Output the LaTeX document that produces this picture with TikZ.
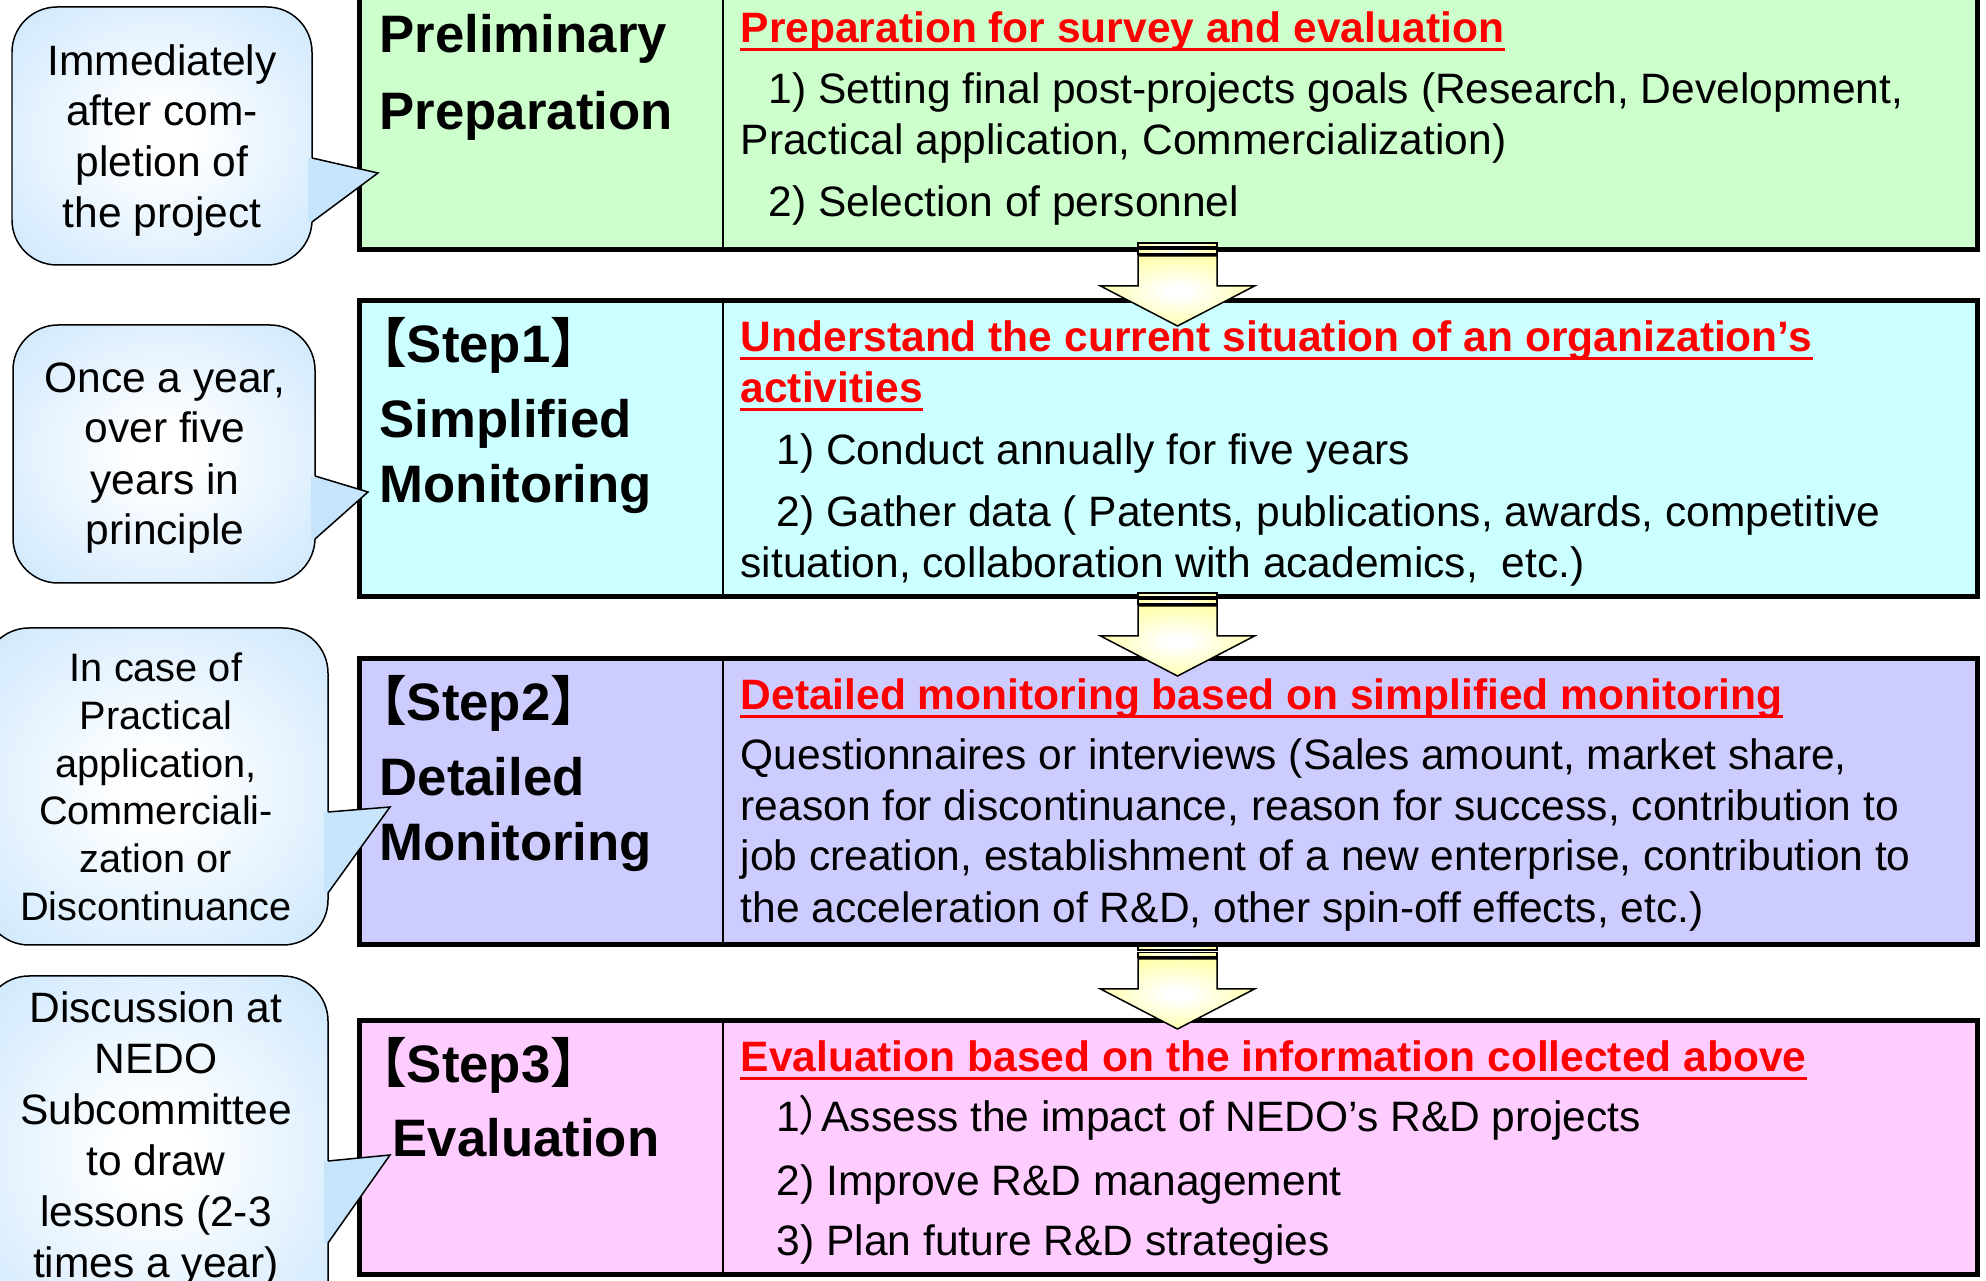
\documentclass[tikz,border=0pt]{standalone}
\usepackage{fontspec}
\setmainfont{Liberation Sans}
\newfontfamily\cjk{Noto Sans CJK JP}
\newfontfamily\cjkp[RawFeature=+palt]{Noto Sans CJK JP}
\definecolor{cgreen}{RGB}{204,255,204}
\definecolor{ccyan}{RGB}{204,255,255}
\definecolor{clav}{RGB}{204,204,255}
\definecolor{cpink}{RGB}{255,204,255}
\definecolor{cred}{RGB}{255,0,0}
\definecolor{cblue}{RGB}{198,228,252}
\definecolor{ayel}{RGB}{255,255,110}
\pgfdeclareradialshading{cshade}{\pgfpoint{0bp}{0bp}}{color(0bp)=(white); color(5bp)=(white); color(40bp)=(cblue); color(80bp)=(cblue)}
\pgfdeclareradialshading{ashade}{\pgfpoint{0bp}{0bp}}{color(0bp)=(white); color(4bp)=(white); color(42bp)=(ayel); color(80bp)=(ayel)}
\newcommand\bodyf{\fontsize{12.1pt}{14.5pt}\selectfont}
\newcommand\titlef{\fontsize{15pt}{18pt}\selectfont\bfseries}
\newcommand\callf{\fontsize{12.1pt}{14.5pt}\selectfont}
\newcommand\callsmf{\fontsize{11.3pt}{13.6pt}\selectfont}
\tikzset{
  boxline/.style={draw=black, line width=0.5mm},
  divline/.style={draw=black, line width=0.25mm},
  txt/.style={inner sep=0pt, anchor=base west, font=\bodyf},
  hd/.style={inner sep=0pt, anchor=base west, font=\bodyf\bfseries, text=cred},
  ttl/.style={inner sep=0pt, anchor=base west, font=\titlef},
  ctx/.style={inner sep=0pt, anchor=base, font=\callf},
  ctxs/.style={inner sep=0pt, anchor=base, font=\callsmf},
  uline/.style={draw=cred, line width=0.25mm},
  callbody/.style={draw=black, line width=0.15mm, shade, shading=cshade, rounded corners=4.5mm},
  callptr/.style={draw=black, line width=0.15mm, line join=miter},
  arrowst/.style={draw=black, line width=0.15mm, shade, shading=ashade},
  blockarrow/.pic={
    \path[arrowst] (-39.5,0) rectangle (39.5,4);
    \path[arrowst] (-39.5,6.5) rectangle (39.5,11);
    \path[arrowst] (-39.5,13) -- (39.5,13) -- (39.5,43) -- (77,43) -- (0,83) -- (-77,43) -- (-39.5,43) -- cycle;
  }
}
\begin{document}
\begin{tikzpicture}[x=0.1mm,y=-0.1mm]
\useasboundingbox (0,0) rectangle (1986,1281);
\fill[white] (0,0) rectangle (1986,1281);
% boxes
\draw[boxline, fill=cgreen] (359,-10) rectangle (1977,250);
\draw[divline] (723,-10) -- (723,250);
\draw[boxline, fill=ccyan] (359,301) rectangle (1977,597);
\draw[divline] (723,301) -- (723,597);
\draw[boxline, fill=clav] (359,659) rectangle (1977,945);
\draw[divline] (723,659) -- (723,945);
\draw[boxline, fill=cpink] (359,1020) rectangle (1977,1274);
\draw[divline] (723,1020) -- (723,1274);
% titles
\node[ttl] (p0a) at (379,53) {Preliminary};
\node[ttl] (p0b) at (379,130) {Preparation};
\node[ttl] (s1) at (353.5,363) {{\cjk\bfseries 【}Step1{\cjk\bfseries 】}};
\node[ttl] (p1a) at (379,438) {Simplified};
\node[ttl] (p1b) at (379,503) {Monitoring};
\node[ttl] (s2) at (353.5,721) {{\cjk\bfseries 【}Step2{\cjk\bfseries 】}};
\node[ttl] (p2a) at (379,796) {Detailed};
\node[ttl] (p2b) at (379,861) {Monitoring};
\node[ttl] (s3) at (353.5,1082) {{\cjk\bfseries 【}Step3{\cjk\bfseries 】}};
\node[ttl] (p3a) at (392,1156) {Evaluation};
% box 0 text
\node[hd] (h0) at (740,43) {Preparation for survey and evaluation};
\draw[uline] ([yshift=-0.65mm]h0.base west) -- ([yshift=-0.65mm]h0.base east);
\node[txt] (t0a) at (768,104) {1) Setting final post-projects goals (Research, Development,};
\node[txt] (t0b) at (740,155) {Practical application, Commercialization)};
\node[txt] (t0c) at (768,217) {2) Selection of personnel};
% box 1 text
\node[hd] (h1a) at (740,352) {Understand the current situation of an organization’s};
\draw[uline] ([yshift=-0.65mm]h1a.base west) -- ([yshift=-0.65mm]h1a.base east);
\node[hd] (h1b) at (740,403) {activities};
\draw[uline] ([yshift=-0.65mm]h1b.base west) -- ([yshift=-0.65mm]h1b.base east);
\node[txt] (t1a) at (776,465) {1) Conduct annually for five years};
\node[txt] (t1b) at (776,527) {2) Gather data ( Patents, publications, awards, competitive};
\node[txt] (t1c) at (740,578) {situation, collaboration with academics,~ etc.)};
% box 2 text
\node[hd] (h2) at (740,710) {Detailed monitoring based on simplified monitoring};
\draw[uline] ([yshift=-0.65mm]h2.base west) -- ([yshift=-0.65mm]h2.base east);
\node[txt] (t2a) at (740,770) {Questionnaires or interviews (Sales amount, market share,};
\node[txt] (t2b) at (740,821) {reason for discontinuance, reason for success, contribution to};
\node[txt] (t2c) at (740,871) {job creation, establishment of a new enterprise, contribution to};
\node[txt] (t2d) at (740,922) {the acceleration of R\&D, other spin-off effects, etc.)};
% box 3 text
\node[hd] (h3) at (740,1072) {Evaluation based on the information collected above};
\draw[uline] ([yshift=-0.65mm]h3.base west) -- ([yshift=-0.65mm]h3.base east);
\node[txt] (t3a) at (776,1132) {1{\cjkp ）}Assess the impact of NEDO’s R\&D projects};
\node[txt] (t3b) at (776,1195) {2) Improve R\&D management};
\node[txt] (t3c) at (776,1255) {3) Plan future R\&D strategies};
% arrows
\coordinate (a1) at (1177.5,243);
\coordinate (a2) at (1177.5,593);
\coordinate (a3) at (1177.5,946);
\pic at (a1) {blockarrow};
\pic at (a2) {blockarrow};
\pic at (a3) {blockarrow};
% callout 1
\path[callbody] (12,7) rectangle (312,265);
\fill[cblue] (308,158) -- (312,158) -- (378,173) -- (312,222) -- (308,222) -- cycle;
\coordinate (k1) at (378,173);
\draw[callptr] (312,158) -- (k1) -- (312,222);
\foreach \t/\yy [count=\i] in {Immediately/76, after com-/126, pletion of/177, the project/228}
  \node[ctx] (c1l\i) at (162,\yy) {\t};
% callout 2
\path[callbody] (13,325) rectangle (315,583);
\fill[cblue] (311,476) -- (315,476) -- (368,492) -- (315,539) -- (311,539) -- cycle;
\coordinate (k2) at (368,492);
\draw[callptr] (315,476) -- (k2) -- (315,539);
\foreach \t/\yy [count=\i] in {{Once a year,}/393, over five/443, years in/495, principle/545}
  \node[ctx] (c2l\i) at (165,\yy) {\t};
% callout 3
\path[callbody] (-16,628) rectangle (328,945);
\fill[cblue] (324,812) -- (328,812) -- (390,807) -- (328,893) -- (324,893) -- cycle;
\coordinate (k3) at (390,807);
\draw[callptr] (328,812) -- (k3) -- (328,893);
\foreach \t/\yy [count=\i] in {In case of/682, Practical/729.6, {application,}/777.2, Commerciali-/824.8, zation or/872.4, Discontinuance/920}
  \node[ctxs] (c3l\i) at (156,\yy) {\t};
% callout 4
\path[callbody] (-16,976) rectangle (328,1330);
\fill[cblue] (324,1161) -- (328,1161) -- (390,1155) -- (328,1243) -- (324,1243) -- cycle;
\coordinate (k4) at (390,1155);
\draw[callptr] (328,1161) -- (k4) -- (328,1243);
\foreach \t/\yy [count=\i] in {Discussion at/1022, NEDO/1073, Subcommittee/1124, to draw/1175, lessons (2-3/1226, times a year)/1277}
  \node[ctx] (c4l\i) at (156,\yy) {\t};
\end{tikzpicture}
\end{document}
